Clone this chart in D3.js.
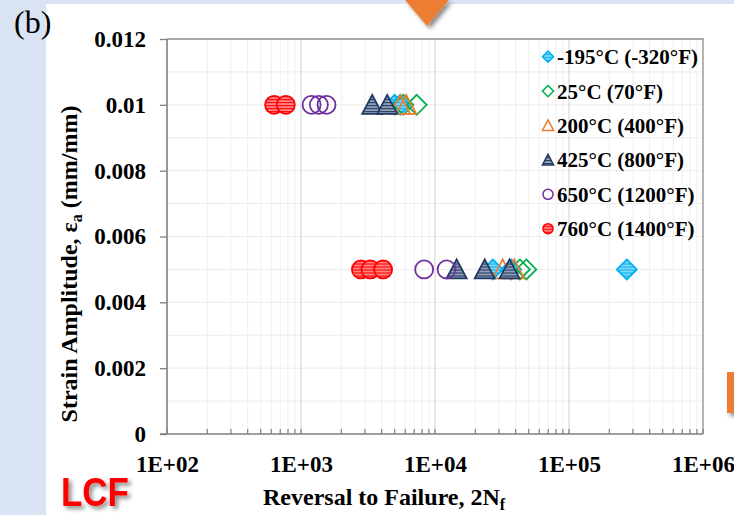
<!DOCTYPE html>
<html>
<head>
<meta charset="utf-8">
<script src="https://cdn.jsdelivr.net/npm/d3@7"></script>
<style>
  body { margin: 0; background: #fff; }
  svg { display: block; }
</style>
</head>
<body>
<svg id="chart" width="734" height="515"></svg>
<script>
// Series (legend order = draw order)
const seriesNames = ["-195°C (-320°F)", "25°C (70°F)", "200°C (400°F)", "425°C (800°F)", "650°C (1200°F)", "760°C (1400°F)"];
const seriesColors = ["#00b0f0", "#00b050", "#ed7d31", "#1f3864", "#7030a0", "#ff0000"];
const seriesShapes = ["diamond", "diamond", "triangle", "triangle", "circle", "circle"];
const seriesStriped = [true, false, false, true, false, true];

// Reversals to failure (2Nf) and strain amplitude
const nf195 = [5000, 5500, 27000, 37000, 270000];
const ea195 = [0.01, 0.01, 0.005, 0.005, 0.005];
const nf25 = [5800, 7300, 43000, 48000];
const ea25 = [0.01, 0.01, 0.005, 0.005];
const nf200 = [5500, 6100, 32000, 39000];
const ea200 = [0.01, 0.01, 0.005, 0.005];
const nf425 = [3400, 4400, 14500, 23500, 36000];
const ea425 = [0.01, 0.01, 0.005, 0.005, 0.005];
const nf650 = [1200, 1360, 1550, 8300, 12200];
const ea650 = [0.01, 0.01, 0.01, 0.005, 0.005];
const nf760 = [630, 770, 2800, 3300, 4100];
const ea760 = [0.01, 0.01, 0.005, 0.005, 0.005];

const xTicks = [1e2, 1e3, 1e4, 1e5, 1e6];
const yTicks = [0, 0.002, 0.004, 0.006, 0.008, 0.01, 0.012];

const seriesData = [
    d3.zip(nf195, ea195), d3.zip(nf25, ea25), d3.zip(nf200, ea200),
    d3.zip(nf425, ea425), d3.zip(nf650, ea650), d3.zip(nf760, ea760)
];

const svg = d3.select("#chart");
const serif = "'Liberation Serif', 'Times New Roman', serif";

// Plot area
const plot = { left: 167, right: 703, top: 39, bottom: 434 };

const x = d3.scaleLog().domain([1e2, 1e6]).range([plot.left, plot.right]);
const y = d3.scaleLinear().domain([0, 0.012]).range([plot.bottom, plot.top]);

// Background (slide)
svg.append("rect").attr("width", 734).attr("height", 515).attr("fill", "#dae3f3");
svg.append("rect").attr("x", 46).attr("y", 4).attr("width", 688).attr("height", 511).attr("fill", "#fff");

const defs = svg.append("defs");
seriesColors.forEach((c, i) => {
    if (!seriesStriped[i]) return;
    const p = defs.append("pattern")
        .attr("id", "stripe" + i)
        .attr("patternUnits", "userSpaceOnUse")
        .attr("width", 6).attr("height", 3);
    p.append("rect").attr("width", 6).attr("height", 3).attr("fill", c);
    p.append("rect").attr("y", 1.6).attr("width", 6).attr("height", 1).attr("fill", "#fff");
});
const shadow = defs.append("filter").attr("id", "shadow")
    .attr("x", "-30%").attr("y", "-30%").attr("width", "160%").attr("height", "160%");
shadow.append("feDropShadow").attr("dx", 3).attr("dy", 3).attr("stdDeviation", 2)
    .attr("flood-color", "#000").attr("flood-opacity", 0.45);

// Decorative slide shapes
svg.append("polygon")
    .attr("points", "405,0 449,0 427,26")
    .attr("fill", "#ed7d31")
    .attr("filter", "url(#shadow)");
svg.append("rect")
    .attr("x", 727).attr("y", 372).attr("width", 8).attr("height", 41)
    .attr("fill", "#ed7d31")
    .attr("filter", "url(#shadow)");

// Gridlines
const minorX = [];
for (let e = 2; e < 6; e++) for (let k = 2; k <= 9; k++) minorX.push(k * Math.pow(10, e));
const gridY = d3.range(1, 12).map(d => d / 1000);

const grid = svg.append("g");
grid.selectAll(".gy").data(gridY).enter().append("line")
    .attr("x1", plot.left).attr("x2", plot.right)
    .attr("y1", d => y(d)).attr("y2", d => y(d))
    .attr("stroke", "#ebebeb").attr("stroke-width", 1);
grid.selectAll(".gxm").data(minorX).enter().append("line")
    .attr("x1", d => x(d)).attr("x2", d => x(d))
    .attr("y1", plot.top).attr("y2", plot.bottom)
    .attr("stroke", "#efefef").attr("stroke-width", 1);
grid.selectAll(".gxM").data(xTicks.slice(1, -1)).enter().append("line")
    .attr("x1", d => x(d)).attr("x2", d => x(d))
    .attr("y1", plot.top).attr("y2", plot.bottom)
    .attr("stroke", "#d9d9d9").attr("stroke-width", 1.2);

// Border (top/right)
svg.append("path")
    .attr("d", `M${plot.left},${plot.top}H${plot.right}V${plot.bottom}`)
    .attr("fill", "none").attr("stroke", "#8c8c8c").attr("stroke-width", 1.3);

// Y axis
const yAxis = d3.axisLeft(y)
    .tickValues(yTicks)
    .tickSize(7)
    .tickPadding(14)
    .tickFormat(d => d === 0 ? "0" : String(+d.toFixed(3)));
const gy = svg.append("g").attr("transform", `translate(${plot.left},0)`).call(yAxis);
gy.select(".domain").remove();
gy.selectAll("line").attr("stroke", "#7f7f7f").attr("stroke-width", 1.3);
gy.selectAll("text")
    .attr("font-family", serif).attr("font-weight", "bold").attr("font-size", 23)
    .attr("fill", "#000");

// X axis
const xAxis = d3.axisBottom(x)
    .tickValues(xTicks)
    .tickSize(0)
    .tickFormat(d => "1E+" + String(Math.round(Math.log10(d))).padStart(2, "0"));
const gx = svg.append("g").attr("transform", `translate(0,${plot.bottom})`).call(xAxis);
gx.select(".domain").remove();
gx.selectAll("text")
    .attr("y", 38).attr("dy", null)
    .attr("font-family", serif).attr("font-weight", "bold").attr("font-size", 23)
    .attr("fill", "#000");

// minor tick marks pointing inward
svg.append("g").selectAll("line").data(minorX.concat(xTicks)).enter().append("line")
    .attr("x1", d => x(d)).attr("x2", d => x(d))
    .attr("y1", plot.bottom).attr("y2", plot.bottom - 5)
    .attr("stroke", "#7f7f7f").attr("stroke-width", 1.2);

// Axis lines
svg.append("line")
    .attr("x1", plot.left - 7).attr("x2", plot.right)
    .attr("y1", plot.bottom).attr("y2", plot.bottom)
    .attr("stroke", "#7f7f7f").attr("stroke-width", 1.6);
svg.append("line")
    .attr("x1", plot.left).attr("x2", plot.left)
    .attr("y1", plot.top).attr("y2", plot.bottom)
    .attr("stroke", "#7f7f7f").attr("stroke-width", 1.6);

// Marker shapes
function shapePath(shape, s) {
    if (shape === "diamond") return `M0,${-10 * s}L${10 * s},0L0,${10 * s}L${-10 * s},0Z`;
    if (shape === "triangle") return `M0,${-10 * s}L${10 * s},${9 * s}L${-10 * s},${9 * s}Z`;
    return d3.arc()({ innerRadius: 0, outerRadius: 9 * s, startAngle: 0, endAngle: 2 * Math.PI });
}
function styleMarker(sel, i) {
    sel.attr("fill", seriesStriped[i] ? `url(#stripe${i})` : "none")
        .attr("stroke", seriesColors[i])
        .attr("stroke-width", 1.8);
}

// Data points
seriesData.forEach((pts, i) => {
    svg.append("g").selectAll("path").data(pts).enter().append("path")
        .attr("transform", d => `translate(${x(d[0])},${y(d[1])})`)
        .attr("d", shapePath(seriesShapes[i], 1))
        .call(styleMarker, i);
});

// Legend
const legend = svg.append("g");
seriesNames.forEach((name, i) => {
    const cy = 56.7 + i * 34.4;
    legend.append("path")
        .attr("transform", `translate(548,${cy})`)
        .attr("d", shapePath(seriesShapes[i], 0.56))
        .call(styleMarker, i)
        .attr("stroke-width", 1.5);
    legend.append("text")
        .attr("x", 557).attr("y", cy + 7.5)
        .attr("font-family", serif).attr("font-weight", "bold").attr("font-size", 21)
        .attr("fill", "#000")
        .text(name);
});

// Axis titles
const yTitle = svg.append("text")
    .attr("transform", "translate(77,264) rotate(-90)")
    .attr("text-anchor", "middle")
    .attr("font-family", serif).attr("font-weight", "bold").attr("font-size", 24)
    .attr("fill", "#000");
yTitle.append("tspan").text("Strain Amplitude, ε");
yTitle.append("tspan").attr("font-size", 16).attr("dy", 5).text("a");
yTitle.append("tspan").attr("dy", -5).text(" (mm/mm)");

const xTitle = svg.append("text")
    .attr("x", 263).attr("y", 505)
    .attr("font-family", serif).attr("font-weight", "bold").attr("font-size", 24)
    .attr("fill", "#000");
xTitle.append("tspan").text("Reversal to Failure, 2N");
xTitle.append("tspan").attr("font-size", 16).attr("dy", 5).text("f");

// Panel label
svg.append("text")
    .attr("x", 14).attr("y", 33)
    .attr("font-family", serif).attr("font-size", 32)
    .attr("fill", "#000")
    .text("(b)");

// LCF tag
svg.append("text")
    .attr("x", 61).attr("y", 506)
    .attr("font-family", "'Liberation Sans', Arial, sans-serif").attr("font-weight", "bold")
    .attr("font-size", 40)
    .attr("textLength", 68).attr("lengthAdjust", "spacingAndGlyphs")
    .attr("fill", "#ff0000")
    .attr("filter", "url(#shadow)")
    .text("LCF");
</script>
</body>
</html>
